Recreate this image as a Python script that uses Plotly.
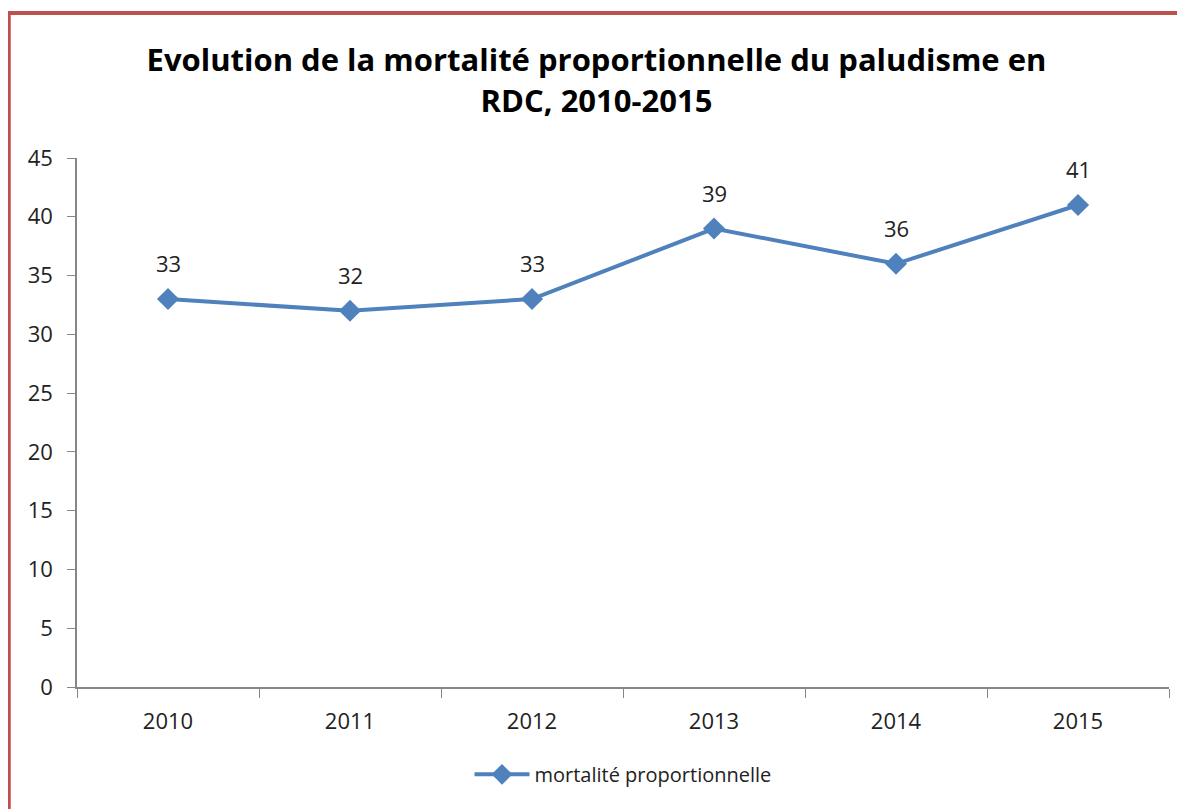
import plotly.graph_objects as go

annees = ["2010", "2011", "2012", "2013", "2014", "2015"]
mortalite = [33, 32, 33, 39, 36, 41]
y_ticks = [0, 5, 10, 15, 20, 25, 30, 35, 40, 45]

bleu = "#4F81BD"
rouge = "#C0504D"
police = "Open Sans"

fig = go.Figure()

fig.add_trace(go.Scatter(
    x=annees,
    y=mortalite,
    mode="lines+markers",
    name="mortalité proportionnelle",
    line=dict(color=bleu, width=4),
    marker=dict(symbol="diamond", size=17, color=bleu),
))

# étiquettes de données au-dessus des points (x = index de catégorie)
for i, v in enumerate(mortalite):
    fig.add_annotation(x=i, y=v, text=str(v), showarrow=False, yshift=36,
                       font=dict(family=police, size=22, color="#222222"))

# cadre rouge (partiellement rogné)
fig.add_shape(type="line", xref="paper", yref="paper",
              x0=-0.0625, x1=-0.0625, y0=-0.5, y1=1.278,
              line=dict(color=rouge, width=4))
fig.add_shape(type="line", xref="paper", yref="paper",
              x0=-0.0643, x1=1.2, y0=1.274, y1=1.274,
              line=dict(color=rouge, width=4))

# la page html ajoute une marge de 8 px : taille compensée
fig.update_layout(
    width=1177,
    height=801,
    margin=dict(l=69, r=16, t=150, b=122),
    paper_bgcolor="white",
    plot_bgcolor="white",
    font=dict(family=police, size=22, color="#222222"),
    title=dict(
        text="<b>Evolution de la mortalité proportionnelle du paludisme en<br>RDC, 2010-2015</b>",
        x=0.5, xanchor="center", y=0.921, yanchor="middle",
        font=dict(family=police, size=31, color="black"),
    ),
    showlegend=True,
    legend=dict(orientation="h", x=0.5, xanchor="center", y=-0.165, yanchor="middle",
                itemwidth=55,
                font=dict(family=police, size=20, color="#222222")),
    xaxis=dict(
        type="category",
        range=[-0.5, 5.5],
        showline=True, linecolor="#868686", linewidth=1.5,
        ticks="outside", tickson="boundaries", ticklen=9, tickcolor="#868686",
        showgrid=False, zeroline=False,
        ticklabelstandoff=14,
    ),
    yaxis=dict(
        range=[0, 45],
        tickvals=y_ticks,
        showline=True, linecolor="#868686", linewidth=1.5,
        ticks="outside", ticklen=8, tickcolor="#868686",
        showgrid=False, zeroline=False,
        ticklabelstandoff=10,
    ),
)

fig.write_html("out.html")
